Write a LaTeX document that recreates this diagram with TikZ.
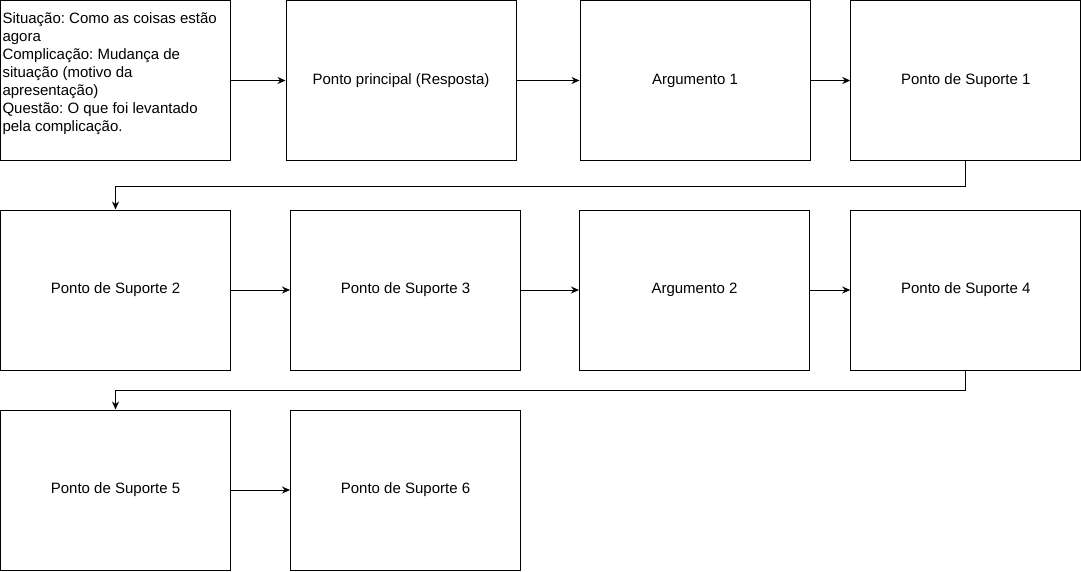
\documentclass[tikz,border=0pt]{standalone}
\usepackage{fontspec}
\setmainfont{Liberation Sans}
\usetikzlibrary{arrows.meta}
\tikzset{
    sketch-box/.style = {draw=black, fill=white, line width=1pt, rectangle, minimum width=230pt, minimum height=160pt, inner sep=2pt, font=\fontsize{15}{18}\selectfont\frenchspacing},
    sketch-arrow/.style = {draw=black, line width=1pt, -{Stealth[length=8pt,width=7pt]}},
}
\begin{document}
\begin{tikzpicture}[x=1pt,y=-1pt]
\useasboundingbox (0,0) rectangle (1081,571);
\node[sketch-box] (situacao) at (115.5,80.5) {\begin{minipage}[c][156pt][t]{226pt}
    \vspace*{10pt}
    Situação: Como as coisas estão\\agora\\Complicação: Mudança de\\situação (motivo da\\apresentação)\\Questão: O que foi levantado\\pela complicação.
\end{minipage}};
\node[sketch-box] (principal) at (401,80.5) {Ponto principal (Resposta)};
\node[sketch-box] (argumento1) at (695,80.5) {Argumento 1};
\node[sketch-box] (suporte1) at (965.75,80.5) {Ponto de Suporte 1};
\node[sketch-box] (suporte2) at (115.5,290) {Ponto de Suporte 2};
\node[sketch-box] (suporte3) at (405.5,290) {Ponto de Suporte 3};
\node[sketch-box] (argumento2) at (694.5,290) {Argumento 2};
\node[sketch-box] (suporte4) at (965.75,290) {Ponto de Suporte 4};
\node[sketch-box] (suporte5) at (115.5,490) {Ponto de Suporte 5};
\node[sketch-box] (suporte6) at (405.5,490) {Ponto de Suporte 6};
\draw[sketch-arrow] (situacao.east) -- (principal.west);
\draw[sketch-arrow] (principal.east) -- (argumento1.west);
\draw[sketch-arrow] (argumento1.east) -- (suporte1.west);
\draw[sketch-arrow] (suporte1.south) -- ++(0,25) -| (suporte2.north);
\draw[sketch-arrow] (suporte2.east) -- (suporte3.west);
\draw[sketch-arrow] (suporte3.east) -- (argumento2.west);
\draw[sketch-arrow] (argumento2.east) -- (suporte4.west);
\draw[sketch-arrow] (suporte4.south) -- ++(0,20) -| (suporte5.north);
\draw[sketch-arrow] (suporte5.east) -- (suporte6.west);
\end{tikzpicture}
\end{document}
